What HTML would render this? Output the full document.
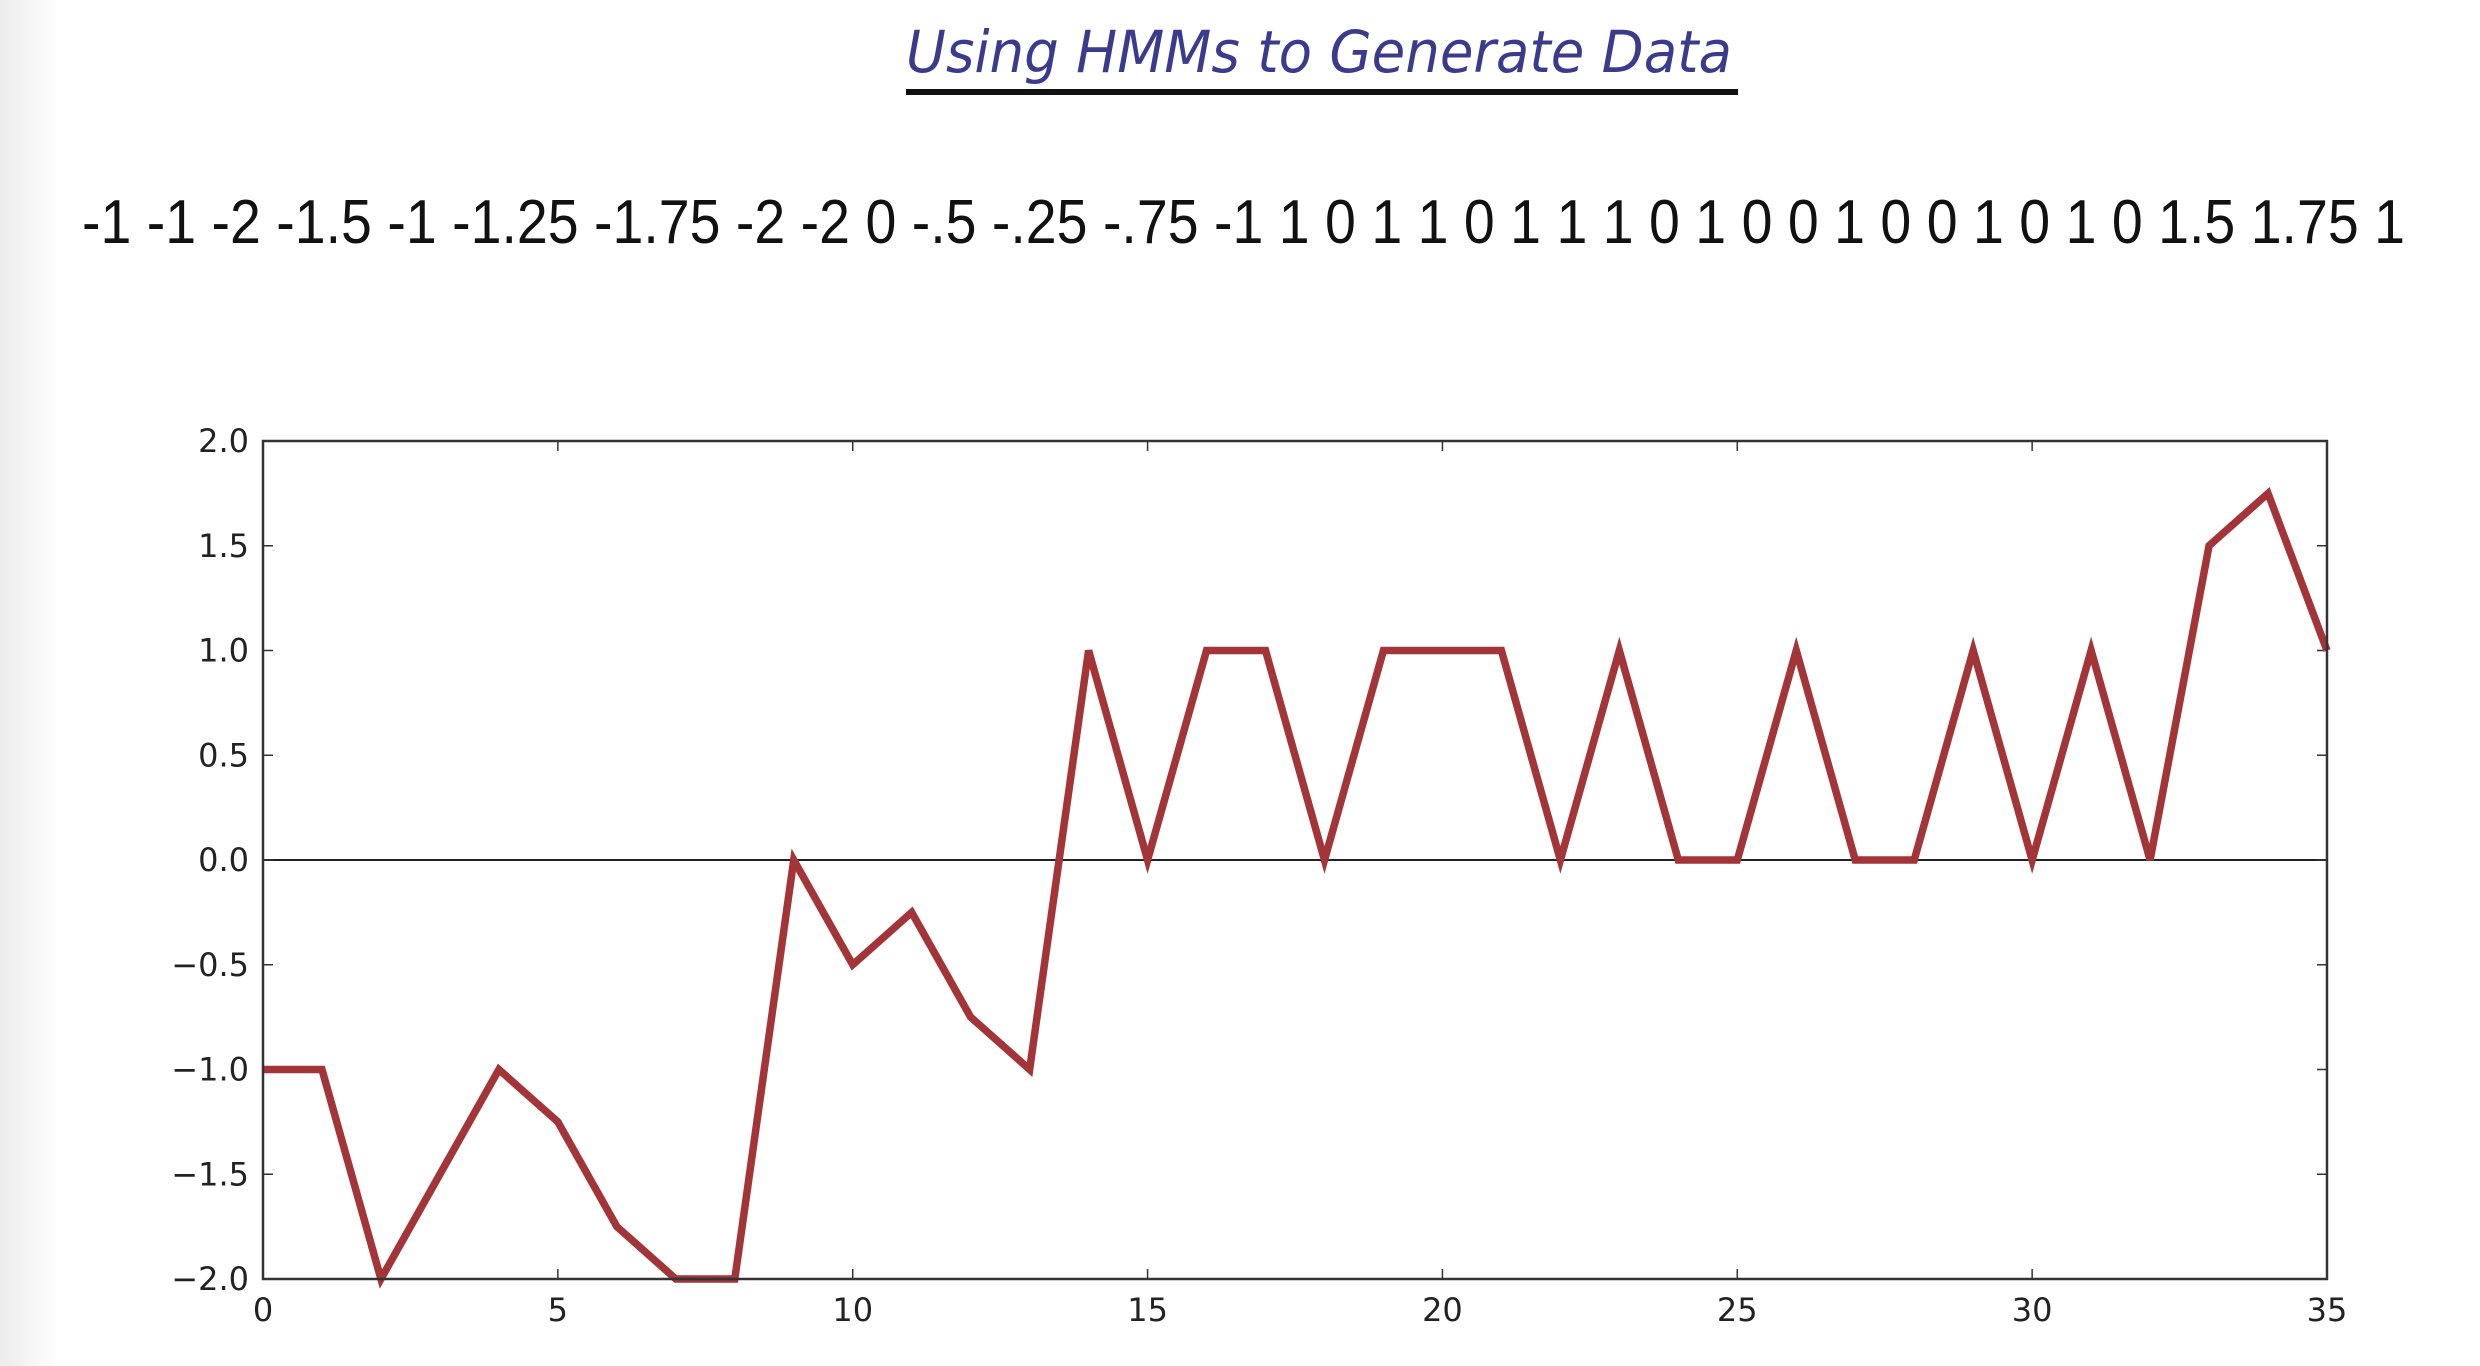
<!DOCTYPE html>
<html><head><meta charset="utf-8"><style>
html,body{margin:0;padding:0;background:#fff;width:2480px;height:1366px;overflow:hidden}
</style></head><body>
<svg id="chart" width="2480" height="1366" xmlns="http://www.w3.org/2000/svg" font-family="'Liberation Sans', 'DejaVu Sans', sans-serif">
<defs><linearGradient id="edge" x1="0" x2="1" y1="0" y2="0"><stop offset="0" stop-color="#ececec"/><stop offset="1" stop-color="#ffffff"/></linearGradient></defs>
<rect x="0" y="0" width="60" height="1366" fill="url(#edge)"/>
<text x="1319" y="72" text-anchor="middle" font-size="58" font-style="italic" fill="#3b3b8e" font-family="'DejaVu Sans', sans-serif" textLength="826" lengthAdjust="spacingAndGlyphs">Using HMMs to Generate Data</text>
<rect x="906" y="89" width="832" height="6" fill="#111"/>
<text x="82" y="243" font-size="62" fill="#111" textLength="2323" lengthAdjust="spacingAndGlyphs">-1 -1 -2 -1.5 -1 -1.25 -1.75 -2 -2 0 -.5 -.25 -.75 -1 1 0 1 1 0 1 1 1 0 1 0 0 1 0 0 1 0 1 0 1.5 1.75 1</text>
<g id="axes"></g>
</svg>
<script>
const values = [-1,-1,-2,-1.5,-1,-1.25,-1.75,-2,-2,0,-0.5,-0.25,-0.75,-1,1,0,1,1,0,1,1,1,0,1,0,0,1,0,0,1,0,1,0,1.5,1.75,1];
const xTicks = [0,5,10,15,20,25,30,35];
const yTicks = [2.0,1.5,1.0,0.5,0.0,-0.5,-1.0,-1.5,-2.0];
const yTickLabels = ["2.0","1.5","1.0","0.5","0.0","\u22120.5","\u22121.0","\u22121.5","\u22122.0"];

const L=263,R=2327,T=441,B=1279;
const sx=v=>L+(v-0)/(35-0)*(R-L);
const sy=v=>B-(v+2)/4*(B-T);
const NS="http://www.w3.org/2000/svg";
const g=document.getElementById('axes');
function mk(tag,attrs){const e=document.createElementNS(NS,tag);for(const k in attrs)e.setAttribute(k,attrs[k]);g.appendChild(e);return e;}

const zl=mk('line',{x1:L,x2:R,y1:sy(0),y2:sy(0),stroke:'#222','stroke-width':2});



xTicks.forEach((t,i)=>{
  const x=sx(t);
  const a=mk('line',{x1:x,x2:x,y1:B,y2:B-10,stroke:'#333','stroke-width':1.5});
  
  
  const b=mk('line',{x1:x,x2:x,y1:T,y2:T+10,stroke:'#333','stroke-width':1.5});
  
  
  const tx=mk('text',{x:x,y:B+42,'text-anchor':'middle','font-size':32,fill:'#222','font-family':"'DejaVu Sans', sans-serif"});
  tx.textContent=String(t);
  
  
});
yTicks.forEach((t,i)=>{
  const y=sy(t);
  const a=mk('line',{x1:L,x2:L+10,y1:y,y2:y,stroke:'#333','stroke-width':1.5});
  
  
  const b=mk('line',{x1:R,x2:R-10,y1:y,y2:y,stroke:'#333','stroke-width':1.5});
  
  
  const tx=mk('text',{x:L-14,y:y+11,'text-anchor':'end','font-size':32,fill:'#222','font-family':"'DejaVu Sans', sans-serif"});
  tx.textContent=yTickLabels[i];
  
  
});

const pts=values.map((v,i)=>sx(i)+','+sy(v)).join(' ');
const line=mk('polyline',{points:pts,fill:'none',stroke:'#a33538','stroke-width':7.5,'stroke-linejoin':'miter'});



const frame=mk('rect',{x:L,y:T,width:R-L,height:B-T,fill:'none',stroke:'#333','stroke-width':2.5});


</script>
</body></html>
